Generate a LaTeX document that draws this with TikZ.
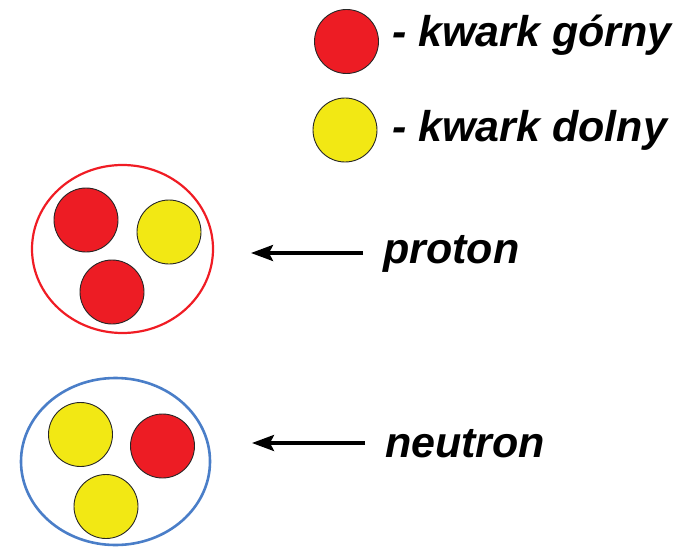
\documentclass[tikz,border=0pt]{standalone}
\usepackage{fontspec}
\setmainfont{Liberation Sans}
\usetikzlibrary{shapes.geometric,arrows.meta}
\definecolor{qred}{HTML}{ED1C24}
\definecolor{qyellow}{HTML}{F2E814}
\definecolor{nblue}{HTML}{4A7EC8}
\definecolor{pred}{HTML}{F01C24}
\tikzset{
  quark/.style={circle, draw=black!85, line width=0.9pt, minimum size=64pt, inner sep=0pt},
  up/.style={quark, fill=qred},
  down/.style={quark, fill=qyellow},
  label/.style={anchor=base west, inner sep=0pt, font=\fontsize{43}{50}\selectfont\bfseries\itshape},
  hadron/.style={ellipse, inner sep=0pt},
  pointer/.style={line width=3.3pt, -{Stealth[length=22pt,width=16pt,inset=4pt]}}
}
\begin{document}
\begin{tikzpicture}[x=1pt,y=-1pt]
\useasboundingbox (0,0) rectangle (684,548);
% legend
\node[up] (lu) at (346.5,41.5) {};
\node[label] (tu) at (392,47) {- kwark górny};
\node[down] (ld) at (345,130) {};
\node[label] (td) at (392,142) {- kwark dolny};
% proton
\node[hadron, draw=pred, line width=2.2pt, minimum width=181pt, minimum height=168pt] (p) at (122.5,249) {};
\node[up] (p1) at (86,220) {};
\node[down] (p2) at (169,232) {};
\node[up] (p3) at (112,292) {};
\node[label] (tp) at (383,263) {proton};
\coordinate (ps) at (363,253);
\coordinate (pe) at (251,253);
\draw[pointer] (ps) -- (pe);
% neutron
\node[hadron, draw=nblue, line width=2.6pt, minimum width=189pt, minimum height=167pt] (n) at (115.5,461.5) {};
\node[down] (n1) at (80.5,434.5) {};
\node[up] (n2) at (162.5,446) {};
\node[down] (n3) at (106,506.5) {};
\node[label] (tn) at (385,457) {neutron};
\coordinate (ns) at (365,443);
\coordinate (ne) at (252,443);
\draw[pointer] (ns) -- (ne);
\end{tikzpicture}
\end{document}
